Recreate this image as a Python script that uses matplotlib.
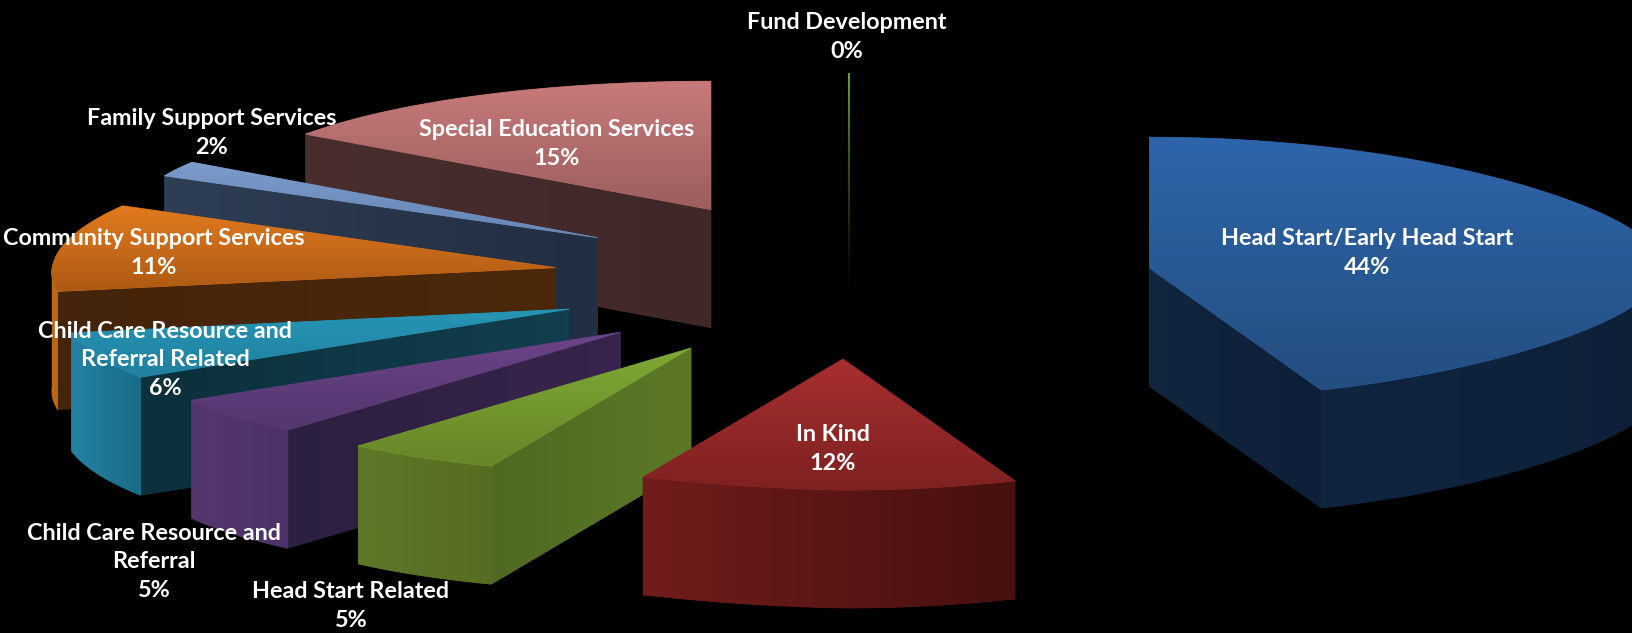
import numpy as np
import matplotlib
matplotlib.use("Agg")
import matplotlib.pyplot as plt
from matplotlib.patches import Polygon
from matplotlib.collections import LineCollection
from matplotlib.colors import LinearSegmentedColormap

# ---- data -------------------------------------------------------------
categories = ["Head Start/Early Head Start", "In Kind", "Head Start Related",
              "Child Care Resource and\nReferral",
              "Child Care Resource and\nReferral Related",
              "Community Support Services", "Family Support Services",
              "Special Education Services", "Fund Development"]
values = [44, 12, 5, 5, 6, 11, 2, 15, 0]

# ---- style: top gradient (far, near), arc wall (left, right), radial wall (left, right)
top_colors = ["#2E65AA #244E80", "#A82E30 #7E2220", "#7FA835 #678628", "#6C4488 #54376F",
              "#2696B4 #2180A0", "#E27A1E #AE5A14", "#7C9BCB #6485B5", "#C87A7A #9C5E5E",
              "#6E9646 #3C5528"]
arc_colors = ["#0F2540 #0E2038", "#721C1C #46100F", "#5E7828 #566C22", "#54376F #4C3268",
              "#2482A2 #1A6C88", "#C06A18 #B86414", "#3A4C68 #2E3E58", "#5A3636 #4C2C2C",
              "#283C1C #101808"]
rad_colors = ["#122640 #0D1E38", "#5A1616 #501414", "#4E6A22 #5C7826", "#2C2040 #38244C",
              "#0C303C #123E4E", "#44240A #4C280A", "#2E3E54 #222E42", "#4A2E2E #402828",
              "#1C2812 #000000"]

# ---- geometry of the exploded view (pixels) ----------------------------
W, H = 1632, 633
CX, CY = 843, 280        # pie centre on the page
R, RY = 466, 131         # radius, squashed radius
EX_R, EX_L, EY = 312, 291, 79   # explosion distance right, left, vertical
DEPTH = 118
# horizontal stretch of the left half of the view, by angle from 12 o'clock
STRETCH_T = [180, 201.6, 219.6, 237.6, 259.2, 270, 298.8, 306, 360]
STRETCH_F = [1.20, 1.165, 1.12, 1.09, 1.088, 1.08, 1.06, 1.075, 1.10]

fig = plt.figure(figsize=(W / 100, H / 100), dpi=100, facecolor="black")
ax = fig.add_axes([0, 0, 1, 1])
ax.set_facecolor("black")
ax.set_axis_off()

def outer(apex, deg):
    deg = np.asarray(deg, dtype=float)
    t = np.radians(deg)
    s, c = np.sin(t), np.cos(t)
    f = np.where(s < 0, np.interp(deg, STRETCH_T, STRETCH_F), 1 + 0.1 * s ** 4)
    near = 1 - 0.03 * np.minimum(1, np.abs(s) * 3)
    fy = np.where(s < 0, np.where(c > 0, 0.98, near), 1.0)
    return apex[0] + R * s * f, apex[1] - RY * c * fy

def gradient_poly(pts, c0, c1, vertical, z):
    pts = np.asarray(pts)
    cmap = LinearSegmentedColormap.from_list("g", [c0, c1])
    base = Polygon(pts, closed=True, fc=cmap(0.5), ec=cmap(0.5), lw=0.6, zorder=z)
    ax.add_patch(base)
    grad = np.linspace(0, 1, 64)
    grad = grad[:, None] if vertical else grad[None, :]
    x0, x1, y0, y1 = pts[:, 0].min(), pts[:, 0].max(), pts[:, 1].min(), pts[:, 1].max()
    im = ax.imshow(grad, cmap=cmap, extent=(x0, x1, y1, y0), origin="upper",
                   aspect="auto", zorder=z + 0.1, interpolation="bilinear", vmin=0, vmax=1)
    clip = Polygon(pts, closed=True, fc="none", ec="none", transform=ax.transData)
    ax.add_patch(clip)
    im.set_clip_path(clip)

bounds = np.concatenate([[0], np.cumsum(values)]) / np.sum(values) * 360
order = [8, 7, 6, 5, 4, 3, 2, 1, 0]   # back to front
for rank, i in enumerate(order):
    t1, t2 = bounds[i], bounds[i + 1]
    mid = np.radians((t1 + t2) / 2)
    sx = np.sin(mid)
    cy = np.cos(mid)
    ex = EX_R if sx > 0 else EX_L * (1 - 0.03 * min(cy, 0))
    apex = (CX + ex * sx, CY - EY * cy + (3 if sx > 0.5 else 0))
    z = 10 + rank * 3
    top = top_colors[i].split()
    arc = arc_colors[i].split()
    rad = rad_colors[i].split()

    if values[i] == 0:
        x, y = outer(apex, 0)
        x = apex[0] + 6
        y = y + 3
        ys = np.linspace(y, apex[1] + DEPTH - 20, 60)
        segs = [[(x, a), (x, b)] for a, b in zip(ys[:-1], ys[1:])]
        fade = np.linspace(0, 1, len(segs))
        c0 = np.array(matplotlib.colors.to_rgb(top[0]))
        cols = [tuple(c0 * (1 - u) ** 1.3) for u in fade]
        ax.add_collection(LineCollection(segs, colors=cols, linewidths=1.5, zorder=z))
        continue

    th = np.linspace(t1, t2, 80)
    ox, oy = outer(apex, th)
    ptop = np.vstack([[apex], np.column_stack([ox, oy])])

    if t1 > 180 or t2 < 180:
        a = outer(apex, t1 if t1 > 180 else t2)
        gradient_poly([apex, a, (a[0], a[1] + DEPTH), (apex[0], apex[1] + DEPTH)],
                      rad[0], rad[1], False, z)
    vis = th[(th >= 90) & (th <= 270)]
    if vis.size > 1:
        vx, vy = outer(apex, vis)
        wall = np.vstack([np.column_stack([vx, vy]),
                          np.column_stack([vx, vy + DEPTH])[::-1]])
        gradient_poly(wall, arc[0], arc[1], False, z + 0.5)
    gradient_poly(ptop, top[0], top[1], True, z + 1)

ax.set_xlim(0, W)
ax.set_ylim(H, 0)

# ---- labels ------------------------------------------------------------
label_xy = [(1367, 253), (833, 449), (351, 606), (154, 562), (165, 360),
            (154, 253), (212, 133), (557, 144), (847, 37)]
for name, v, (lx, ly) in zip(categories, values, label_xy):
    ax.text(lx, ly, f"{name}\n{v}%", color="white", ha="center", va="center",
            fontsize=16.8, fontweight="bold", family="Lato", linespacing=1.45, zorder=100)

fig.savefig("out.png", dpi=100, facecolor="black")
